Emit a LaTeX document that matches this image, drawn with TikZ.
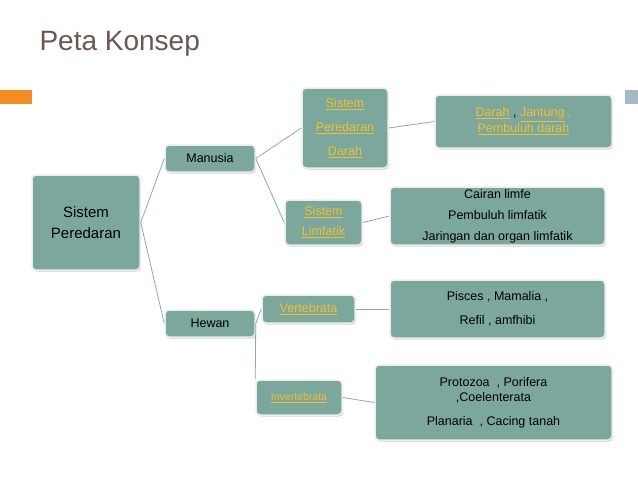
\documentclass[tikz,border=0pt]{standalone}
\usepackage{fontspec}
\setmainfont{Liberation Sans}
\usetikzlibrary{shadows}
\definecolor{boxfill}{HTML}{7BA79D}
\definecolor{linkc}{HTML}{F2C12E}
\definecolor{titlec}{HTML}{6B5651}
\definecolor{linec}{HTML}{8FA8B8}
\newcommand{\lnk}[1]{{\color{linkc}\underline{#1}}}
\tikzset{
 bx/.style={draw=white!85!gray,line width=1.5pt,fill=boxfill,rounded corners=4pt,
   drop shadow={shadow xshift=1pt,shadow yshift=-1.5pt,opacity=0.35},
   align=center,font=\fontsize{12.5}{16}\selectfont,inner sep=1pt},
 cn/.style={draw=linec,line width=0.8pt}
}
\begin{document}
\begin{tikzpicture}[x=1pt,y=-1pt]
\useasboundingbox (0,0) rectangle (638,479);
\node[anchor=west,text=titlec,font=\fontsize{28}{32}\selectfont] (t) at (36,44) {Peta Konsep};
\fill[orange!80!brown!90!white] (0,90) rectangle (32,104);
\fill[linec!80!white] (625,90) rectangle (638,104);
\newcommand{\bxat}[6]{\node[bx,minimum width=#3-#1,minimum height=#4-#2,#6] (#5) at ({(#1+#3)/2},{(#2+#4)/2})}
\bxat{32}{175}{140}{270}{sp}{font=\fontsize{15}{21}\selectfont}{Sistem\\Peredaran};
\bxat{165}{145}{255}{172}{man}{}{Manusia};
\bxat{165}{310}{255}{337}{hew}{}{Hewan};
\bxat{302}{88}{388}{168}{spd}{font=\fontsize{12.5}{24}\selectfont}{\lnk{Sistem}\\\lnk{Peredaran}\\ \lnk{Darah}};
\bxat{435}{95}{612}{148}{dar}{}{\lnk{Darah} , \lnk{Jantung} \textcolor{linkc}{,}\\\lnk{Pembuluh darah}};
\bxat{285}{200}{362}{245}{lim}{font=\fontsize{12.5}{20}\selectfont}{\lnk{Sistem}\\ \lnk{Limfatik}};
\bxat{390}{187}{605}{245}{cai}{font=\fontsize{12.5}{21}\selectfont}{Cairan limfe\\Pembuluh limfatik\\Jaringan dan organ limfatik};
\bxat{262}{295}{355}{323}{ver}{}{\lnk{Vertebrata}};
\bxat{390}{280}{605}{338}{pis}{font=\fontsize{12.5}{24}\selectfont}{Pisces , Mamalia ,\\Refil , amfhibi};
\bxat{256}{380}{342}{415}{inv}{font=\fontsize{10.5}{12}\selectfont}{\lnk{Invertebrata}};
\bxat{375}{365}{612}{440}{pro}{font=\fontsize{12.5}{15}\selectfont}{Protozoa\ \ , Porifera\\,Coelenterata\\[9pt]Planaria\ \ , Cacing tanah};
\draw[cn] (sp.east) -- (man.west);
\draw[cn] (sp.east) -- (hew.west);
\draw[cn] (man.east) -- (spd.west);
\draw[cn] (man.east) -- (lim.west);
\draw[cn] (spd.east) -- (dar.west);
\draw[cn] (lim.east) -- (cai.west);
\draw[cn] (hew.east) -- (ver.west);
\draw[cn] (hew.east) -- (inv.north west);
\draw[cn] (ver.east) -- (pis.west);
\draw[cn] (inv.east) -- (pro.west);
\end{tikzpicture}
\end{document}
